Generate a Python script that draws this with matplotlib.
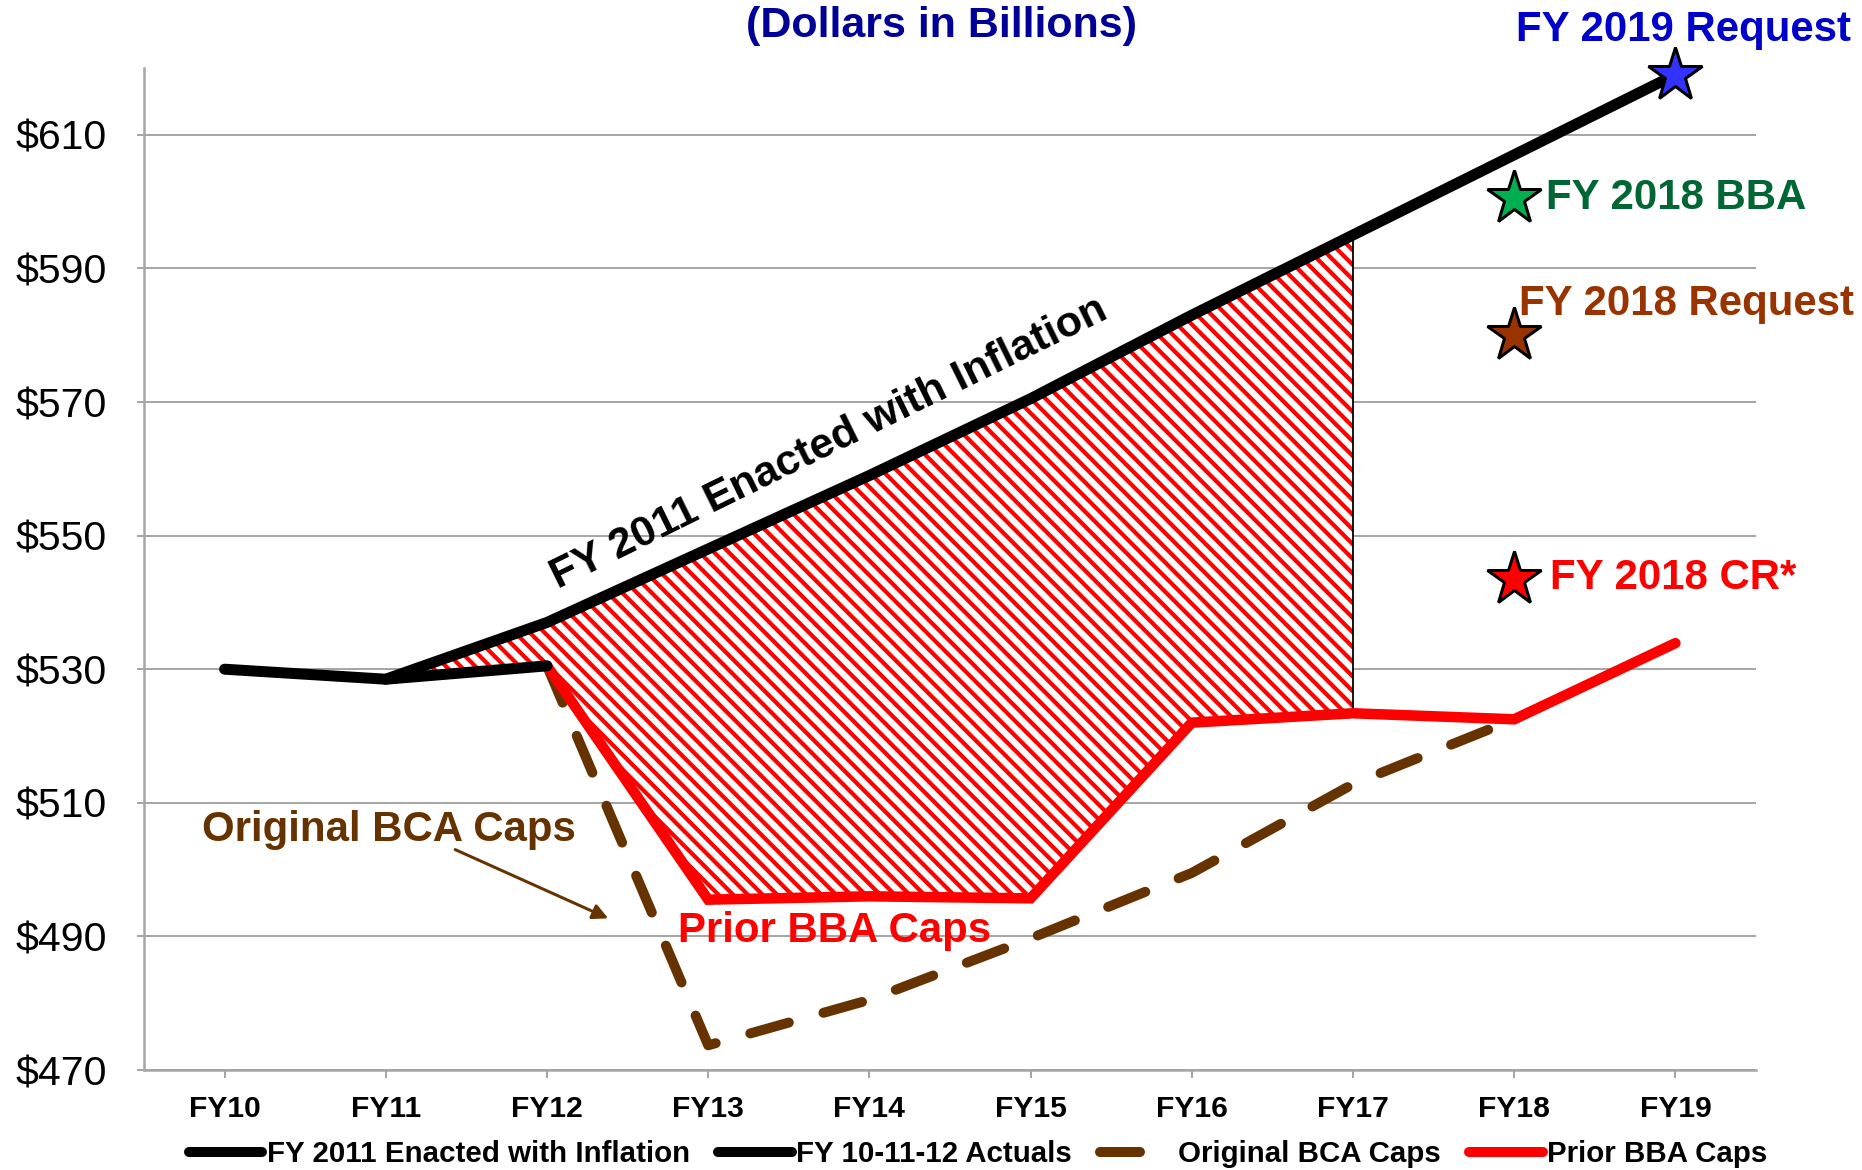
import matplotlib
matplotlib.use("Agg")
import numpy as np
import matplotlib.pyplot as plt
from matplotlib.lines import Line2D
from matplotlib.collections import LineCollection

# ---------------- data ----------------
categories = ["FY10", "FY11", "FY12", "FY13", "FY14", "FY15", "FY16", "FY17", "FY18", "FY19"]
enacted_x = [1, 2, 3, 4, 5, 6, 7, 8, 9]
enacted_inflation = [528.5, 537.0, 548.0, 559.0, 570.5, 583.0, 595.0, 607.0, 619.0]
actuals_x = [0, 1, 2]
actuals = [530.0, 528.5, 530.5]
bca_x = [2, 3, 4, 5, 6, 7, 8]
bca_caps = [530.5, 473.7, 480.5, 489.7, 499.5, 512.8, 522.5]
bba_x = [2, 3, 4, 5, 6, 7, 8, 9]
bba_caps = [530.5, 495.5, 496.0, 495.7, 522.0, 523.4, 522.5, 533.9]
gap_x = [1, 2, 3, 4, 5, 6, 7]
gap_upper = [528.5, 537.0, 548.0, 559.0, 570.5, 583.0, 595.0]
gap_lower = [528.5, 530.5, 495.5, 496.0, 495.7, 522.0, 523.4]
star_labels = ["FY 2019 Request", "FY 2018 BBA", "FY 2018 Request", "FY 2018 CR*"]
star_x = [9, 8, 8, 8]
star_y = [619.0, 600.5, 580.0, 543.5]
yticks = [470, 490, 510, 530, 550, 570, 590, 610]
ytick_labels = ["$470", "$490", "$510", "$530", "$550", "$570", "$590", "$610"]
legend_labels = ["FY 2011 Enacted with Inflation", "FY 10-11-12 Actuals",
                 "Original BCA Caps", "Prior BBA Caps"]

# ---------------- style ----------------
DPI = 90
W, H = 1862, 1170
def pt(px):
    return px * 72.0 / DPI

FONT = "Liberation Sans"
plt.rcParams["font.family"] = [FONT, "DejaVu Sans"]

BLACK = "#000000"
RED = "#FF0000"
BROWN = "#663300"
GRID = "#A6A6A6"

fig = plt.figure(figsize=(W / DPI, H / DPI), dpi=DPI)
AX_L, AX_R, AX_T, AX_B = 144, 1756, 68, 1070
ax = fig.add_axes([AX_L / W, 1 - AX_B / H, (AX_R - AX_L) / W, (AX_B - AX_T) / H])
XMIN, XMAX, YMIN, YMAX = -0.5, 9.5, 470, 620
ax.set_xlim(XMIN, XMAX)
ax.set_ylim(YMIN, YMAX)

# grid & spines
ax.set_yticks(yticks)
ax.set_yticklabels(ytick_labels, fontsize=pt(41), fontfamily=FONT)
ax.set_xticks(range(len(categories)))
ax.set_xticklabels(categories, fontsize=pt(30), fontweight="bold")
ax.yaxis.grid(True, color=GRID, linewidth=pt(2), zorder=0)
ax.set_axisbelow(True)
for s in ["top", "right"]:
    ax.spines[s].set_visible(False)
for s in ["left", "bottom"]:
    ax.spines[s].set_color(GRID)
    ax.spines[s].set_linewidth(pt(2.5))
ax.tick_params(axis="y", direction="out", length=pt(7), width=pt(2), color=GRID, pad=pt(30))
ax.tick_params(axis="x", direction="out", length=pt(8), width=pt(2), color=GRID, pad=pt(17))

# hatched gap region (white fill + clipped red diagonal stripes)
gap_poly = ax.fill_between(gap_x, gap_lower, gap_upper, facecolor="white",
                           edgecolor="none", linewidth=0, zorder=2)
px_per_x = (AX_R - AX_L) / (XMAX - XMIN)
px_per_y = (AX_B - AX_T) / (YMAX - YMIN)
ax_w_px = AX_R - AX_L
ax_h_px = AX_B - AX_T
spacing_px = 14.7
segs = []
for k in np.arange(0, ax_w_px + ax_h_px + spacing_px, spacing_px):
    x0 = XMIN + k / px_per_x
    x1 = XMIN + (k - ax_h_px) / px_per_x
    segs.append([(x0, YMIN), (x1, YMAX)])
hatch = LineCollection(segs, colors=RED, linewidths=pt(4.2), zorder=2.05)
ax.add_collection(hatch)
hatch.set_clip_path(gap_poly.get_paths()[0], ax.transData)
ax.fill_between(gap_x, gap_lower, gap_upper, facecolor="none", edgecolor=BLACK,
                linewidth=pt(1.8), zorder=2.1)

# lines
DASH = (4.0, 3.6)
ax.plot(bca_x, bca_caps, color=BROWN, linewidth=pt(10), dashes=DASH,
        dash_capstyle="round", dash_joinstyle="round", zorder=3)
ax.plot(bba_x, bba_caps, color=RED, linewidth=pt(10.5), solid_capstyle="round",
        solid_joinstyle="miter", zorder=4)
ax.plot(actuals_x, actuals, color=BLACK, linewidth=pt(11), solid_capstyle="round",
        solid_joinstyle="round", zorder=5)
ax.plot(enacted_x, enacted_inflation, color=BLACK, linewidth=pt(11),
        solid_capstyle="round", solid_joinstyle="round", zorder=5)

# stars
star_fill = ["#3333FF", "#00B050", "#993300", "#FF0000"]
for sx, sy, fc in zip(star_x, star_y, star_fill):
    ax.plot([sx], [sy], marker="*", markersize=pt(56), markerfacecolor=fc,
            markeredgecolor=BLACK, markeredgewidth=pt(3), linestyle="none",
            zorder=6, clip_on=False)

# star labels
label_fs = pt(42)
ax.text(9.05, 625.7, star_labels[0], color="#0000CC", fontsize=label_fs, fontweight="bold",
        ha="center", va="center", clip_on=False)
ax.text(8.2, 600.6, star_labels[1], color="#006633", fontsize=label_fs, fontweight="bold",
        ha="left", va="center")
ax.text(8.03, 584.6, star_labels[2], color="#993300", fontsize=label_fs, fontweight="bold",
        ha="left", va="center", clip_on=False)
ax.text(8.22, 543.7, star_labels[3], color=RED, fontsize=label_fs, fontweight="bold",
        ha="left", va="center")

# series annotations
ax.text(3.75, 563.8, "FY 2011 Enacted with Inflation", color=BLACK, fontsize=pt(43),
        fontweight="bold", rotation=26.2, rotation_mode="anchor", ha="center", va="center")
ax.text(-0.14, 506.0, "Original BCA Caps", color=BROWN, fontsize=pt(42), fontweight="bold",
        ha="left", va="center")
ax.text(2.81, 490.8, "Prior BBA Caps", color=RED, fontsize=pt(42), fontweight="bold",
        ha="left", va="center", zorder=7)
ax.annotate("", xy=(2.38, 492.7), xytext=(1.43, 503.0),
            arrowprops=dict(arrowstyle="-|>", color=BROWN, lw=pt(3),
                            mutation_scale=pt(32), shrinkA=0, shrinkB=0))

# title fragment
fig.text(941 / W, 1 - 26 / H, "(Dollars in Billions)", color="#000099", fontsize=pt(43),
         fontweight="bold", ha="center", va="center")

# legend
handles = [
    Line2D([], [], color=BLACK, linewidth=pt(10), solid_capstyle="round"),
    Line2D([], [], color=BLACK, linewidth=pt(10), solid_capstyle="round"),
    Line2D([], [], color=BROWN, linewidth=pt(10), dashes=DASH, dash_capstyle="round"),
    Line2D([], [], color=RED, linewidth=pt(10), solid_capstyle="round"),
]
fig.legend(handles, legend_labels, loc="center", bbox_to_anchor=(978 / W, 1 - 1154 / H),
           ncol=4, frameon=False, prop=dict(family=FONT, weight="bold", size=pt(29.5)),
           handlelength=2.5, handletextpad=0.15, columnspacing=0.95, borderpad=0,
           borderaxespad=0)

fig.savefig("out.png", dpi=DPI)
